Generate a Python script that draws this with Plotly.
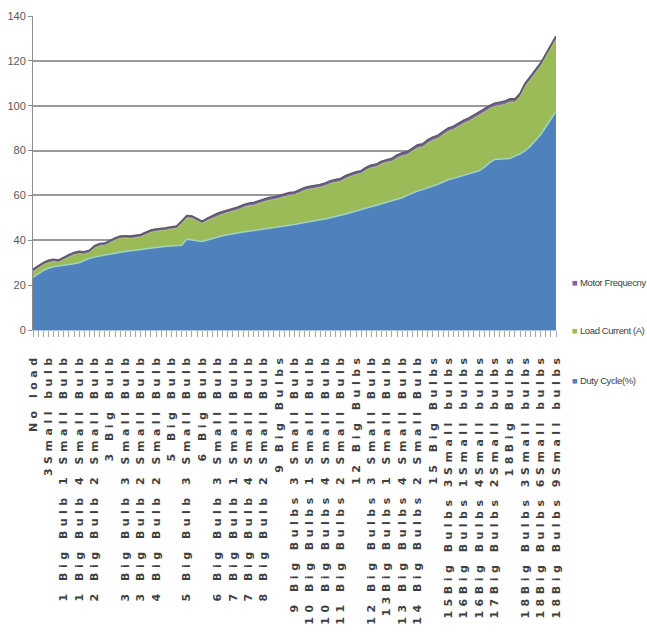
import plotly.graph_objects as go

# Load steps: every third step carries a label on the category axis
step_labels = [
    "No load", "3Small bulb", "1 Big Bulb 1 Small Bulb", "1 Big Bulb 4 Small Bulb",
    "2 Big Bulb 2 Small Bulb", "3 Big Bulb", "3 Big Bulb 3 Small Bulb",
    "3 Big Bulb 2 Small Bulb", "4 Big Bulb 2 Small Bulb", "5 Big Bulb",
    "5 Big Bulb 3 Small Bulb", "6 Big Bulb", "6 Big Bulb 3 Small Bulb",
    "7 Big Bulb 1 Small Bulb", "7 Big Bulb 4 Small Bulb", "8 Big Bulb 2 Small Bulb",
    "9 Big Bulbs", "9 Big Bulbs 3 Small Bulb", "10 Big Bulbs 1 Small Bulb",
    "10 Big Bulbs 4 Small Bulb", "11 Big Bulbs 2 Small Bulb", "12 Big Bulbs",
    "12 Big Bulbs 3 Small Bulb", "13Big Bulbs 1 Small Bulb", "13 Big Bulbs 4 Small Bulb",
    "14 Big Bulbs 2 Small Bulb", "15 Big Bulbs", "15Big Bulbs 3Small bulbs",
    "16Big Bulbs 1Small bulbs", "16Big Bulbs 4Small bulbs", "17Big Bulbs 2Small bulbs",
    "18Big Bulbs", "18Big Bulbs 3Small bulbs", "18Big Bulbs 6Small bulbs",
    "18Big Bulbs 9Small bulbs",
]

duty_cycle = [
    23.5, 25.0, 26.5, 27.5, 28.2, 28.5, 29.0, 29.2, 29.5, 30.0, 31.0, 32.0,
    32.5, 33.0, 33.5, 34.0, 34.3, 34.7, 35.0, 35.3, 35.6, 36.0, 36.3, 36.6,
    37.0, 37.2, 37.3, 37.5, 37.6, 37.8, 40.5, 40.3, 39.8, 39.5, 40.2, 40.9,
    41.5, 42.0, 42.5, 43.0, 43.3, 43.7, 44.0, 44.3, 44.7, 45.0, 45.3, 45.7,
    46.0, 46.3, 46.7, 47.0, 47.5, 48.0, 48.5, 48.8, 49.2, 49.5, 50.0, 50.5,
    51.0, 51.7, 52.4, 53.0, 53.7, 54.4, 55.0, 55.6, 56.3, 57.0, 57.6, 58.3,
    59.0, 60.0, 61.0, 62.0, 62.6, 63.3, 64.0, 65.0, 66.0, 67.0, 67.6, 68.3,
    69.0, 69.6, 70.3, 71.0, 72.5, 74.5, 76.0, 76.2, 76.3, 76.5, 77.5, 78.5,
    80.0, 82.0, 84.5, 87.0, 90.5, 94.0, 97.5,
]

load_current = [
    2.5, 2.5, 2.5, 2.5, 2.3, 1.7, 2.5, 3.3, 4.0, 4.0, 2.8, 2.5,
    4.0, 4.5, 4.2, 5.0, 5.7, 6.1, 6.0, 5.5, 5.4, 5.5, 6.2, 6.9,
    7.0, 7.0, 7.2, 7.5, 7.7, 9.7, 9.5, 9.5, 8.7, 8.0, 8.6, 8.9,
    9.3, 9.6, 9.8, 9.8, 10.3, 10.9, 11.3, 11.3, 11.6, 12.3, 12.5, 12.4,
    12.8, 13.3, 13.3, 13.3, 13.8, 14.3, 14.3, 14.3, 14.4, 14.8, 15.3, 15.3,
    15.3, 15.9, 16.2, 16.3, 16.1, 16.9, 17.3, 17.2, 17.7, 17.8, 17.5, 18.3,
    18.6, 18.1, 18.8, 19.1, 19.0, 20.1, 20.6, 20.4, 21.1, 21.6, 21.8, 22.5,
    23.1, 23.5, 24.1, 24.6, 24.6, 24.1, 23.6, 23.9, 24.3, 25.1, 24.1, 25.6,
    28.6, 29.6, 30.1, 30.6, 31.1, 31.6, 32.1,
]

motor_frequency = [
    1.0, 1.0, 1.0, 1.0, 1.0, 1.0, 1.0, 1.0, 1.0, 1.0, 1.0, 1.0,
    1.0, 1.0, 1.0, 1.0, 1.0, 1.0, 1.0, 1.0, 1.0, 1.0, 1.0, 1.0,
    1.0, 1.0, 1.0, 1.0, 1.0, 1.0, 1.0, 1.0, 1.0, 1.0, 1.0, 1.2,
    1.2, 1.2, 1.2, 1.2, 1.2, 1.2, 1.2, 1.2, 1.2, 1.2, 1.2, 1.2,
    1.2, 1.2, 1.2, 1.2, 1.2, 1.2, 1.2, 1.2, 1.2, 1.2, 1.2, 1.2,
    1.2, 1.2, 1.2, 1.2, 1.2, 1.2, 1.2, 1.2, 1.2, 1.2, 1.4, 1.4,
    1.4, 1.4, 1.4, 1.4, 1.4, 1.4, 1.4, 1.4, 1.4, 1.4, 1.4, 1.4,
    1.4, 1.4, 1.4, 1.4, 1.4, 1.4, 1.4, 1.4, 1.4, 1.4, 1.4, 1.4,
    1.4, 1.4, 1.4, 1.4, 1.4, 1.4, 1.4,
]

y_ticks = [0, 20, 40, 60, 80, 100, 120, 140]

steps = list(range(len(duty_cycle)))
label_pos = steps[::3]

BLUE, GREEN, PURPLE = "#4F81BD", "#9BBB59", "#8064A2"

fig = go.Figure()
fig.add_trace(go.Scatter(
    x=steps, y=duty_cycle, name="Duty Cycle(%)", stackgroup="s",
    mode="lines", line=dict(color="#9fd3c4", width=1.5), fillcolor=BLUE,
))
fig.add_trace(go.Scatter(
    x=steps, y=load_current, name="Load Current (A)", stackgroup="s",
    mode="lines", line=dict(color="#a9c770", width=1), fillcolor=GREEN,
))
fig.add_trace(go.Scatter(
    x=steps, y=motor_frequency, name="Motor Frequecny", stackgroup="s",
    mode="lines", line=dict(color="#5d5a6e", width=1.8), fillcolor=PURPLE,
))

spaced = [f'<span style="letter-spacing:4.5px">{t}</span>' for t in step_labels]

fig.update_layout(
    width=647, height=644,
    margin=dict(l=33, r=91, t=16, b=314, autoexpand=False),
    paper_bgcolor="white", plot_bgcolor="white",
    showlegend=False,
    xaxis=dict(
        range=[0, len(duty_cycle) - 1],
        tickmode="array", tickvals=label_pos, ticktext=spaced,
        tickangle=-90, ticklabelstandoff=12,
        tickfont=dict(family="DejaVu Sans", size=11, color="#3f3f3f", weight="bold"),
        ticks="outside", ticklen=6, tickcolor="#a8a8a8", tickwidth=1,
        minor=dict(ticks="outside", ticklen=6, tickcolor="#a8a8a8", dtick=1, tick0=0,
                   showgrid=False),
        showline=True, linecolor="#a9c9d6", linewidth=1,
        showgrid=False, zeroline=False,
    ),
    yaxis=dict(
        range=[0, 140], tickvals=y_ticks,
        tickfont=dict(family="Liberation Sans", size=11, color="#595959"),
        ticks="outside", ticklen=4, tickcolor="#8c8c8c",
        showline=True, linecolor="#8c8c8c", linewidth=1,
        showgrid=True, gridcolor="#9a9a9a", gridwidth=2,
        zeroline=False,
    ),
)

legend_items = [
    ("Motor Frequecny", PURPLE, 0.150),
    ("Load Current (A)", GREEN, -0.002),
    ("Duty Cycle(%)", BLUE, -0.160),
]
for text, color, ypos in legend_items:
    fig.add_annotation(
        xref="paper", yref="paper", x=1.026, y=ypos,
        xanchor="left", yanchor="middle", showarrow=False,
        text=(f'<span style="color:{color}">■</span>'
              f'<span style="letter-spacing:-0.4px"> {text}</span>'),
        font=dict(family="Liberation Sans", size=9.5, color="#404040"),
    )

fig.write_html("out.html")
